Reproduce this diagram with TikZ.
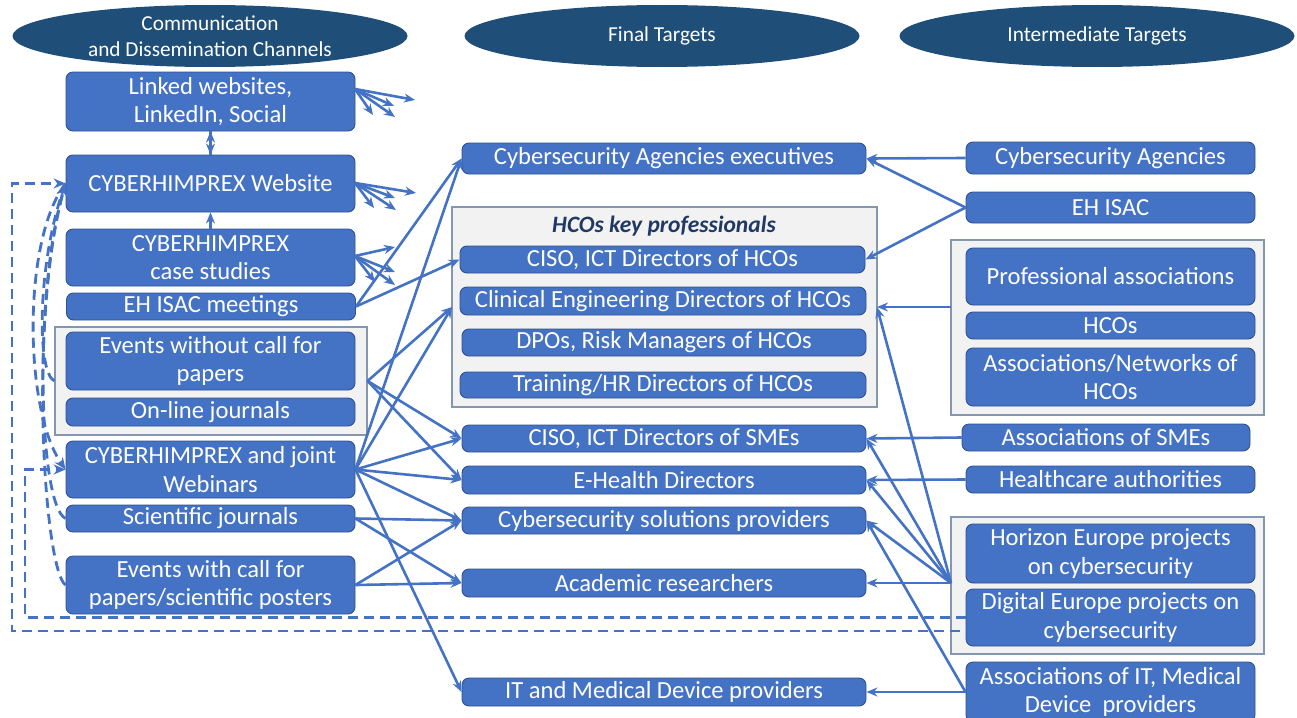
\documentclass[tikz,border=0pt]{standalone}
\usepackage{fontspec}
\setmainfont{Carlito}
\usetikzlibrary{arrows.meta,shapes.geometric}
\definecolor{boxblue}{HTML}{4472C4}
\definecolor{boxedge}{HTML}{2F528F}
\definecolor{headblue}{HTML}{1F4E79}
\definecolor{groupfill}{HTML}{F2F2F2}
\definecolor{groupedge}{HTML}{8497B0}
\definecolor{titlenavy}{HTML}{1F3864}

\begin{document}
\begin{tikzpicture}[x=1pt,y=-1pt,
  sz/.style n args={2}{minimum width=#1pt, minimum height=#2pt},
  box/.style={draw=boxedge, line width=0.9pt, fill=boxblue, rounded corners=7pt,
    text=white, align=center, inner sep=0pt, font=\fontsize{24.6}{28.5}\selectfont},
  group/.style={draw=groupedge, line width=1.2pt, fill=groupfill, inner sep=0pt},
  head/.style={ellipse, fill=headblue, draw=none, inner sep=0pt, sz={395}{62}},
  headtext/.style={text=white, align=center, inner sep=0pt, font=\fontsize{21.3}{26}\selectfont},
  link/.style={draw=boxblue, line width=2.6pt, -{Stealth[length=11pt,width=9pt]}},
  dlink/.style={draw=boxblue, line width=2.8pt, dash pattern=on 10pt off 6pt,
    -{Stealth[length=12pt,width=10pt]}},
]
\useasboundingbox (0,0) rectangle (1297,717);

% column headings
\node[head] (E1) at (210,36) {};
\node[headtext] (E1t) at (E1) {Communication\\and Dissemination Channels};
\node[head] (E2) at (662,36) {};
\node[headtext] (E2t) at (E2) {Final Targets};
\node[head] (E3) at (1097,36) {};
\node[headtext] (E3t) at (E3) {Intermediate Targets};

% grouping frames
\node[group, sz={312}{108}] (G1) at (211,381) {};
\node[group, sz={425}{200}] (HCO) at (664.5,307) {};
\node[group, sz={313}{175}] (G3) at (1107.5,327.5) {};
\node[group, sz={313}{137}] (G4) at (1107.5,585.5) {};

% communication and dissemination channels
\node[box, sz={289}{59}] (L1) at (210.5,101.5) {Linked websites,\\LinkedIn, Social};
\node[box, sz={289}{57}] (L2) at (210.5,183.5) {CYBERHIMPREX Website};
\node[box, sz={289}{57}] (L3) at (210.5,257.5) {CYBERHIMPREX\\case studies};
\node[box, sz={289}{27}] (L4) at (211,306.5) {EH ISAC meetings};
\node[box, sz={289}{58}] (L5) at (210.5,361) {Events without call for\\papers};
\node[box, sz={289}{28}] (L6) at (210.5,412) {On-line journals};
\node[box, sz={289}{57}] (L7) at (210.5,469.5) {CYBERHIMPREX and joint\\Webinars};
\node[box, sz={289}{27}] (L8) at (210.5,518.5) {Scientific journals};
\node[box, sz={289}{58}] (L9) at (210.5,585) {Events with call for\\papers/scientific posters};

% final targets
\node[box, sz={404}{31}] (M1) at (664,158.5) {Cybersecurity Agencies executives};
\node[text=titlenavy, inner sep=0pt, font=\bfseries\itshape\fontsize{23.5}{27}\selectfont] (HCOt) at (664,226) {HCOs key professionals};
\node[box, sz={405}{27}] (M2) at (662.5,259.5) {CISO, ICT Directors of HCOs};
\node[box, sz={406}{28}] (M3) at (663,301) {Clinical Engineering Directors of HCOs};
\node[box, sz={404}{27}] (M4) at (664,342.5) {DPOs, Risk Managers of HCOs};
\node[box, sz={406}{26}] (M5) at (663,385) {Training/HR Directors of HCOs};
\node[box, sz={404}{27}] (M6) at (664,438.5) {CISO, ICT Directors of SMEs};
\node[box, sz={404}{28}] (M7) at (664,480) {E-Health Directors};
\node[box, sz={404}{27}] (M8) at (664,520.5) {Cybersecurity solutions providers};
\node[box, sz={404}{28}] (M9) at (664,583) {Academic researchers};
\node[box, sz={404}{28}] (M10) at (664,692) {IT and Medical Device providers};

% intermediate targets
\node[box, sz={289}{32}] (R1) at (1110.5,158) {Cybersecurity Agencies};
\node[box, sz={289}{31}] (R2) at (1110.5,207.5) {EH ISAC};
\node[box, sz={289}{57}] (R3) at (1110.5,276.5) {Professional associations};
\node[box, sz={289}{27}] (R4) at (1110.5,325.5) {HCOs};
\node[box, sz={289}{58}] (R5) at (1110.5,377) {Associations/Networks of\\HCOs};
\node[box, sz={288}{27}] (R6) at (1106,437.5) {Associations of SMEs};
\node[box, sz={289}{27}] (R7) at (1110.5,479.5) {Healthcare authorities};
\node[box, sz={289}{59}] (R8) at (1110.5,553.5) {Horizon Europe projects\\on cybersecurity};
\node[box, sz={289}{57}] (R9) at (1110.5,617.5) {Digital Europe projects on\\cybersecurity};
\node[box, sz={289}{60}] (R10) at (1110.5,692) {Associations of IT, Medical\\Device\ \ providers};

% connection points on frames and box sides
\coordinate (hcoL) at (452,307);
\coordinate (hcoR) at (877,307);
\coordinate (g3o) at (951,307);
\coordinate (g4o) at (951,583);
\coordinate (l1o) at (355,89);
\coordinate (l2o) at (355,183);
\coordinate (l3o) at (355,256);

% outgoing fans of the web channels
\foreach \dx/\dy in {60/11, 39/17, 18/26, 40/28} \draw[link] (l1o) -- ++(\dx,\dy);
\foreach \dx/\dy in {61/10, 40/15, 19/25, 41/27} \draw[link] (l2o) -- ++(\dx,\dy);
\foreach \dx/\dy in {40/-9, 40/16, 20/26, 40/29} \draw[link] (l3o) -- ++(\dx,\dy);
\draw[link] (L2.north) -- (L1.south);
\draw[link] (L1.south) -- (L2.north);
\draw[link] (L3.north) -- (L2.south);

% channels to final targets
\draw[link] (L4.east) -- (M1.west);
\draw[link] (L4.east) -- (M2.west);
\draw[link] (G1.east) -- (hcoL);
\draw[link] (G1.east) -- (M6.west);
\draw[link] (G1.east) -- (M7.west);
\draw[link] (L7.east) -- (M1.west);
\draw[link] (L7.east) -- (hcoL);
\draw[link] (L7.east) -- (M6.west);
\draw[link] (L7.east) -- (M7.west);
\draw[link] (L7.east) -- (M8.west);
\draw[link] (L7.east) -- (M10.west);
\draw[link] (L8.east) -- (M8.west);
\draw[link] (L8.east) -- (M9.west);
\draw[link] (L9.east) -- (M8.west);
\draw[link] (L9.east) -- (M9.west);

% intermediate targets to final targets
\draw[link] (R1.west) -- (M1.east);
\draw[link] (R2.west) -- (M1.east);
\draw[link] (R2.west) -- (M2.east);
\draw[link] (g3o) -- (hcoR);
\draw[link] (R6.west) -- (M6.east);
\draw[link] (R7.west) -- (M7.east);
\draw[link] (g4o) -- (hcoR);
\draw[link] (g4o) -- (M6.east);
\draw[link] (g4o) -- (M7.east);
\draw[link] (g4o) -- (M8.east);
\draw[link] (g4o) -- (M9.east);
\draw[link] (R10.west) -- (M10.east);
\draw[link] (R10.west) -- (M8.east);

% dashed feedback loops
\coordinate (outR) at (960,631);
\coordinate (outL) at (12,183.5);
\coordinate (inL) at (25,469.5);
\draw[dlink] (outR) -| (outL) -- (L2.west);
\draw[dlink] (R9.west) -| (inL) -- (L7.west);
\draw[dlink] (G1.west) .. controls (36,372) and (38,262) .. (L2.west);
\draw[dlink] (L8.west) .. controls (38,505) and (34,290) .. (L2.west);
\draw[dlink] (L9.west) .. controls (44,570) and (28,320) .. (L2.west);
\draw[dlink] (L2.west) .. controls (22,240) and (24,410) .. (L7.west);
\end{tikzpicture}
\end{document}
